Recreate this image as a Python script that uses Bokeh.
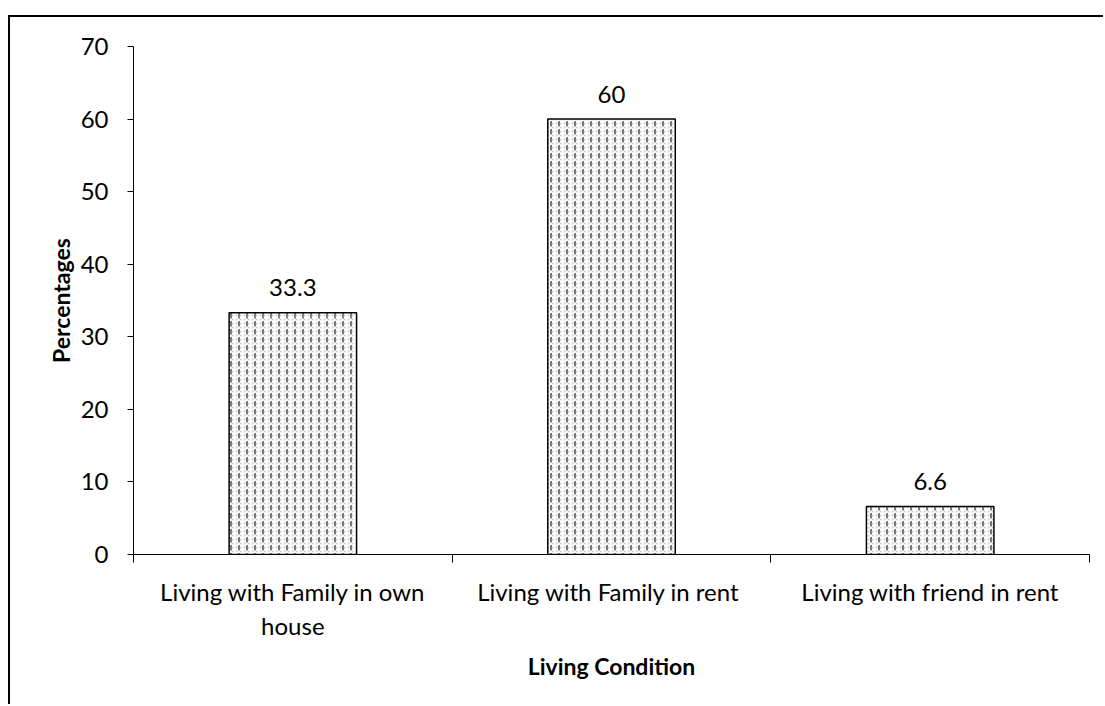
from bokeh.plotting import figure
from bokeh.models import ColumnDataSource, FixedTicker, Range1d
from bokeh.embed import file_html
from bokeh.resources import INLINE
from bokeh.core.properties import value

# Survey results: living condition of respondents (percentages)
categories = ["Living with Family in own house", "Living with Family  in rent", "Living with friend in rent"]
tick_labels = ["Living with Family in own\nhouse", "Living with Family  in rent", "Living with friend in rent"]
percentages = [33.3, 60, 6.6]
value_labels = ["33.3", "60", "6.6"]
y_ticks = [0, 10, 20, 30, 40, 50, 60, 70]

FONT = "Lato"
TEXT_SIZE = "24px"
TITLE_SIZE = "23px"

positions = [i + 0.5 for i in range(len(categories))]
src = ColumnDataSource(dict(x=positions, top=percentages, label=value_labels))

p = figure(
    width=1095, height=689,
    x_range=Range1d(0, len(categories)), y_range=Range1d(0, 70),
    output_backend="svg", toolbar_location=None,
    min_border_left=123, min_border_right=16, min_border_top=29, min_border_bottom=152,
)
p.margin = (15, 0, 0, 8)
p.styles = {"border-top": "2px solid black", "border-left": "2px solid black"}
p.outline_line_color = None
p.grid.grid_line_color = None
p.background_fill_color = "white"
p.border_fill_color = "white"

# textured bars: light dotted layer under a darker dashed layer
p.vbar(
    x="x", top="top", width=0.4, source=src,
    fill_color="white", line_color=None,
    hatch_pattern="dot", hatch_color="#bbbbbb", hatch_scale=4, hatch_weight=1.5, hatch_alpha=0.8,
)
p.vbar(
    x="x", top="top", width=0.4, source=src,
    fill_color=None, line_color="black", line_width=1.5,
    hatch_pattern="vertical_dash", hatch_color="#555555", hatch_scale=8, hatch_weight=1.8, hatch_alpha=0.85,
)

p.text(
    x="x", y="top", text="label", source=src,
    text_align="center", text_baseline="middle", y_offset=-25,
    text_font=value(FONT), text_font_size=TEXT_SIZE, text_color="black",
)

# y axis
p.yaxis.ticker = FixedTicker(ticks=y_ticks)
p.yaxis.major_tick_in = 0
p.yaxis.major_tick_out = 6
p.yaxis.minor_tick_line_color = None
p.yaxis.major_label_standoff = 19
p.yaxis.major_label_text_font = FONT
p.yaxis.major_label_text_font_size = TEXT_SIZE
p.yaxis.major_label_text_color = "black"
p.yaxis.axis_line_color = "black"
p.yaxis.major_tick_line_color = "black"
p.yaxis.axis_label = "Percentages"
p.yaxis.axis_label_text_font = FONT
p.yaxis.axis_label_text_font_style = "bold"
p.yaxis.axis_label_text_font_size = TITLE_SIZE
p.yaxis.axis_label_text_color = "black"
p.yaxis.axis_label_standoff = 3

# x axis: labels at category centres, ticks at category boundaries
p.xaxis.ticker = FixedTicker(ticks=positions, minor_ticks=list(range(len(categories) + 1)))
p.xaxis.major_label_overrides = {pos: lab for pos, lab in zip(positions, tick_labels)}
p.xaxis.major_tick_line_color = None
p.xaxis.major_tick_out = 0
p.xaxis.major_tick_in = 0
p.xaxis.minor_tick_line_color = "black"
p.xaxis.minor_tick_out = 8
p.xaxis.minor_tick_in = 0
p.xaxis.major_label_standoff = 14
p.xaxis.major_label_text_font = FONT
p.xaxis.major_label_text_font_size = TEXT_SIZE
p.xaxis.major_label_text_color = "black"
p.xaxis.axis_line_color = "black"
p.xaxis.axis_label = "Living Condition"
p.xaxis.axis_label_text_font = FONT
p.xaxis.axis_label_text_font_style = "bold"
p.xaxis.axis_label_text_font_size = TITLE_SIZE
p.xaxis.axis_label_text_color = "black"
p.xaxis.axis_label_standoff = 9

open("out.html", "w").write(file_html(p, INLINE))
